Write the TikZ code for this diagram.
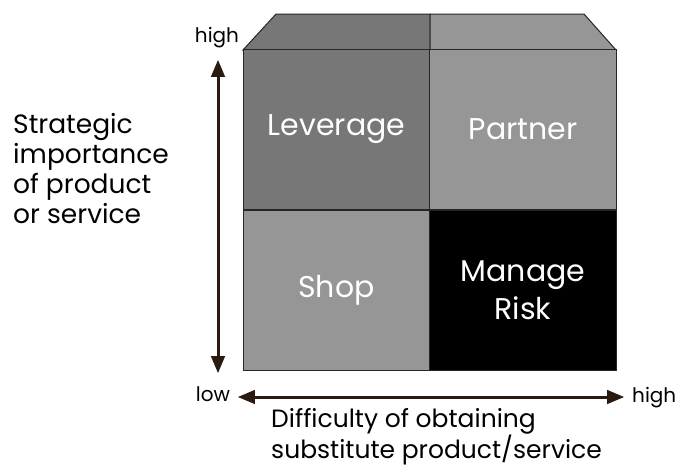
\documentclass[tikz,border=0pt]{standalone}
\usepackage{fontspec}
\setmainfont{Poppins}
\usepackage{tikz}
\usetikzlibrary{arrows,shapes}
\definecolor{darkgrey}{HTML}{777777}
\definecolor{midgrey}{HTML}{969696}
\definecolor{axisbrown}{HTML}{2B1A10}
\tikzstyle{quad}=[draw=black!85,line width=1pt,minimum width=187pt,minimum height=160pt,inner sep=0pt,text=white,font=\fontsize{30}{38}\selectfont,align=center]
\tikzstyle{axis both} = [draw=axisbrown,line width=3pt,triangle 45-triangle 45]
\tikzstyle{tick label} = [font=\fontsize{20}{22}\selectfont,inner sep=0pt]
\tikzstyle{axis label} = [font=\fontsize{26.5}{30}\selectfont,align=left,inner sep=0pt]

\begin{document}
\begin{tikzpicture}[x=1pt,y=-1pt]
    \useasboundingbox (0,0) rectangle (684,469);
    % Draw the lid on top of the matrix
    \path[fill=darkgrey,draw=black!85,line width=1pt] (243,50) -- (276,14) -- (430,14) -- (430,50) -- cycle;
    \path[fill=midgrey,draw=black!85,line width=1pt] (430,50) -- (430,14) -- (584,14) -- (616,50) -- cycle;

    % Then the four quadrants
    \foreach \pos/\name/\col/\txt in {{(336.5,129.5)/leverage/darkgrey/Leverage}, {(523,129.5)/partner/midgrey/Partner}, {(336.5,290)/shop/midgrey/Shop}, {(523,290)/risk/black/Manage\\Risk}}
        \node[quad, fill=\col] (\name) at \pos {\txt};

    % Axes
    \coordinate (vlow) at (218,373);
    \coordinate (vhigh) at (218,60);
    \coordinate (hlow) at (238,397);
    \coordinate (hhigh) at (624,397);
    \path[axis both] (vlow) -- (vhigh);
    \path[axis both] (hlow) -- (hhigh);

    \node[tick label] (yhigh) at (217,38) {high};
    \node[tick label] (ylow) at (213,394) {low};
    \node[tick label, anchor=west] (xhigh) at (632,398) {high};

    \node[axis label, anchor=north west] (ytitle) at (13,113) {Strategic\\importance\\of product\\or service};
    \node[axis label, font=\fontsize{25}{27}\selectfont, anchor=north west] (xtitle) at (271,408) {Difficulty of obtaining\\substitute product/service};
\end{tikzpicture}
\end{document}
